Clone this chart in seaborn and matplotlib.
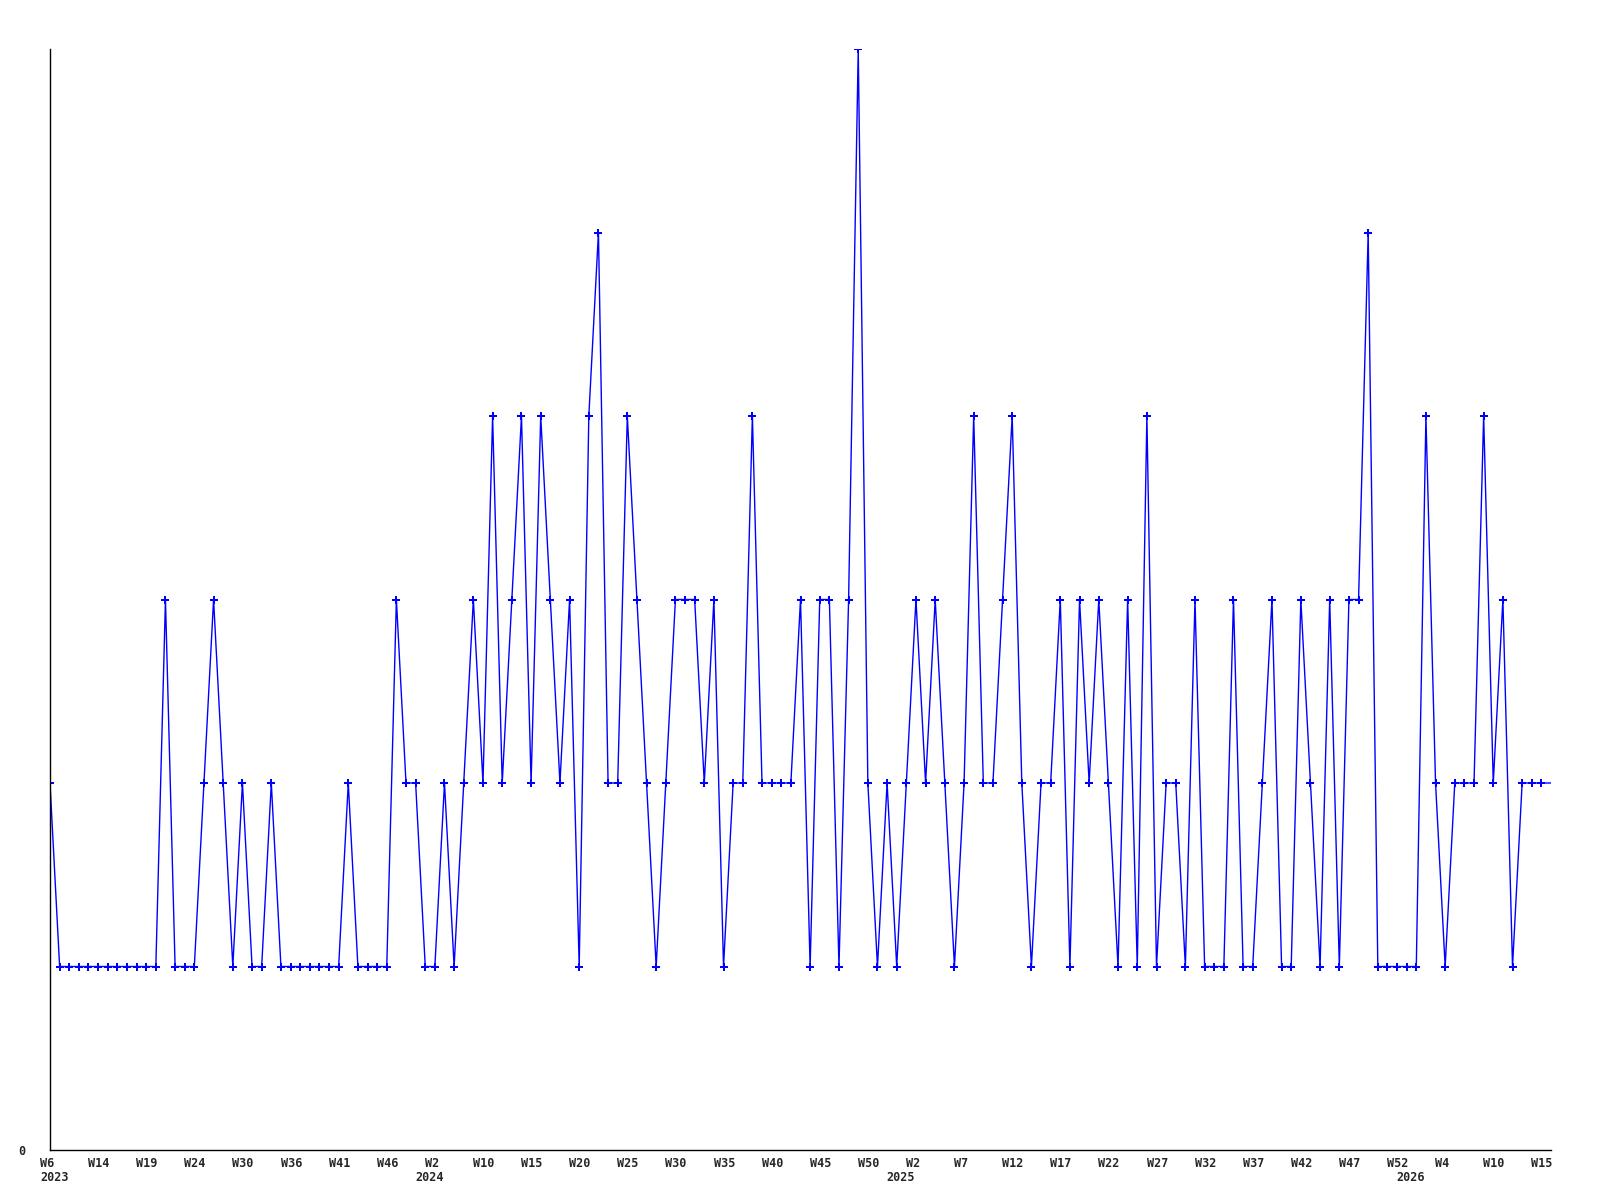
import matplotlib
matplotlib.use("Agg")
import matplotlib.pyplot as plt
import matplotlib.transforms as mtransforms
import seaborn as sns
import pandas as pd

# ---- data ----
counts = [
    2, 1, 1, 1, 1, 1, 1, 1, 1, 1,
    1, 1, 3, 1, 1, 1, 2, 3, 2, 1,
    2, 1, 1, 2, 1, 1, 1, 1, 1, 1,
    1, 2, 1, 1, 1, 1, 3, 2, 2, 1,
    1, 2, 1, 2, 3, 2, 4, 2, 3, 4,
    2, 4, 3, 2, 3, 1, 4, 5, 2, 2,
    4, 3, 2, 1, 2, 3, 3, 3, 2, 3,
    1, 2, 2, 4, 2, 2, 2, 2, 3, 1,
    3, 3, 1, 3, 6, 2, 1, 2, 1, 2,
    3, 2, 3, 2, 1, 2, 4, 2, 2, 3,
    4, 2, 1, 2, 2, 3, 1, 3, 2, 3,
    2, 1, 3, 1, 4, 1, 2, 2, 1, 3,
    1, 1, 1, 3, 1, 1, 2, 3, 1, 1,
    3, 2, 1, 3, 1, 3, 3, 5, 1, 1,
    1, 1, 1, 4, 2, 1, 2, 2, 2, 4,
    2, 3, 1, 2, 2, 2, 2,
]
week_labels = ["W6", "W14", "W19", "W24", "W30", "W36", "W41", "W46",
               "W2", "W10", "W15", "W20", "W25", "W30", "W35", "W40",
               "W45", "W50", "W2", "W7", "W12", "W17", "W22", "W27",
               "W32", "W37", "W42", "W47", "W52", "W4", "W10", "W15"]
label_step = 5
year_labels = ["2023", "2024", "2025", "2026"]
year_index = [0, 39, 88, 141]

df = pd.DataFrame({"idx": range(len(counts)), "count": counts})
n = len(counts)

sns.set_style("white")
plt.rcParams["font.family"] = ["DejaVu Sans Mono", "DejaVu Sans"]

fig = plt.figure(figsize=(16, 12), dpi=100)
ax = fig.add_axes([50 / 1600, 1 - 1150 / 1200, (1551 - 50) / 1600, (1150 - 49) / 1200])

sns.lineplot(data=df, x="idx", y="count", ax=ax, color="#0000ff",
             linewidth=1.0, marker="P", markersize=5.5, markeredgewidth=0,
             markevery=list(range(n - 1)))

ax.set_xlim(0, n - 1)
ax.set_ylim(0, 6)
ax.set_xlabel("")
ax.set_ylabel("")

for s in ["top", "right"]:
    ax.spines[s].set_visible(False)
for s in ["left", "bottom"]:
    ax.spines[s].set_color("black")
    ax.spines[s].set_linewidth(1.0)

tick_pos = list(range(0, label_step * len(week_labels), label_step))
ax.set_xticks(tick_pos)
ax.set_xticklabels(week_labels, fontsize=8.5, fontweight="bold", ha="left")
ax.tick_params(axis="x", length=0, pad=5)
off = mtransforms.ScaledTranslation(-10 / 100, 0, fig.dpi_scale_trans)
for lab in ax.get_xticklabels():
    lab.set_transform(lab.get_transform() + off)

ax.set_yticks([0])
ax.set_yticklabels(["0"], fontsize=8.5, fontweight="bold")
ax.tick_params(axis="y", length=0, pad=18)

for yl, yi in zip(year_labels, year_index):
    ax.annotate(yl, xy=(yi, 0), xycoords=("data", "axes fraction"),
                xytext=(-10, -21), textcoords="offset pixels",
                ha="left", va="top", fontsize=8.5, fontweight="bold")

ax.grid(False)
fig.savefig("out.png", dpi=100, facecolor="white")
